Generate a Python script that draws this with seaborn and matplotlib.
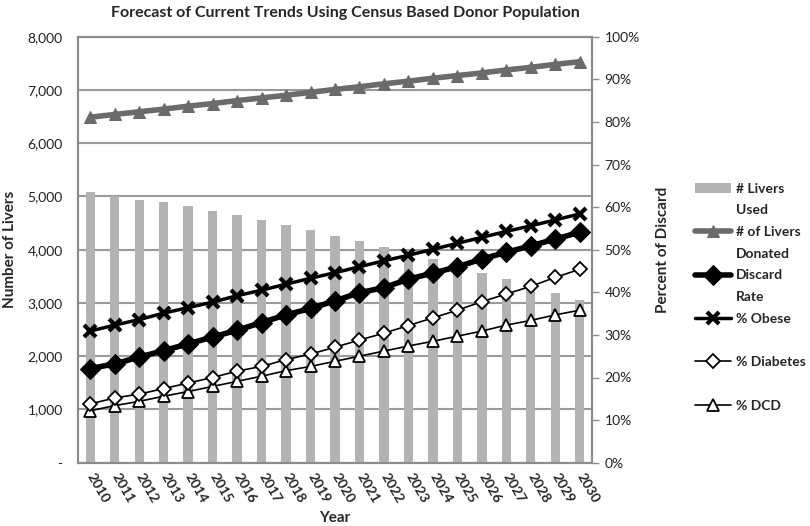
import numpy as np
import pandas as pd
import matplotlib
matplotlib.use("Agg")
import matplotlib.pyplot as plt
from matplotlib.lines import Line2D
from matplotlib.ticker import FuncFormatter
import seaborn as sns

### DATA ###
years = list(range(2010, 2031))
livers_used = [5075, 5013, 4938, 4888, 4812, 4731, 4650, 4549, 4462, 4368, 4255,
               4154, 4049, 3940, 3823, 3710, 3560, 3447, 3320, 3184, 3058]
livers_donated = [6488, 6540, 6590, 6640, 6695, 6745, 6800, 6850, 6900, 6955, 7010,
                  7060, 7115, 7165, 7220, 7270, 7320, 7375, 7425, 7480, 7531]
discard_rate = [22.1, 23.2, 24.8, 26.3, 27.9, 29.5, 31.1, 32.9, 34.7, 36.2, 38.0,
                39.9, 41.1, 43.1, 44.5, 46.0, 47.8, 49.4, 50.9, 52.5, 54.1]
pct_obese = [30.9, 32.3, 33.6, 35.1, 36.4, 37.7, 39.2, 40.5, 41.9, 43.3, 44.6,
             46.0, 47.4, 48.7, 50.1, 51.5, 52.9, 54.3, 55.6, 57.0, 58.4]
pct_diabetes = [13.8, 15.2, 16.1, 17.4, 18.7, 20.0, 21.5, 22.6, 24.2, 25.5, 27.1,
                28.8, 30.4, 32.2, 34.0, 35.8, 37.8, 39.6, 41.4, 43.5, 45.4]
pct_dcd = [12.2, 13.4, 14.4, 15.6, 16.7, 17.9, 19.1, 20.3, 21.6, 22.6, 23.8,
           25.0, 26.2, 27.4, 28.5, 29.7, 30.9, 32.3, 33.4, 34.7, 35.8]

df = pd.DataFrame({"year": [str(y) for y in years], "i": range(len(years)),
                   "used": livers_used, "donated": livers_donated,
                   "discard": discard_rate, "obese": pct_obese,
                   "diabetes": pct_diabetes, "dcd": pct_dcd})

sns.set_style("white")
plt.rcParams["font.family"] = ["Lato", "DejaVu Sans"]

fig = plt.figure(figsize=(8.1, 5.26), dpi=100)
ax = fig.add_axes([78/810, 1-462.7/526, (592-78)/810, (462.7-36.7)/526])

#! bars: livers used
sns.barplot(x="year", y="used", data=df, ax=ax, color="#b3b3b3",
            saturation=1, width=0.38, linewidth=0)
bar_h = ax.patches[0]

#! livers donated (left axis)
sns.lineplot(x="i", y="donated", data=df, ax=ax, color="#6b6b6b", linewidth=4,
             marker="^", markersize=9, markeredgecolor="#6b6b6b", zorder=4)
don_h = ax.lines[-1]

ax.set_ylim(0, 8000)
ax.set_xlim(-0.5, len(years) - 0.5)
ax.set_yticks(np.arange(0, 8001, 1000))
ax.yaxis.set_major_formatter(FuncFormatter(lambda v, p: "-" if v == 0 else f"{int(v):,}"))
ax.grid(axis="y", color="#9a9a9a", linewidth=1.5)
ax.set_axisbelow(True)
ax.tick_params(axis="y", length=0, labelsize=10, labelcolor="#222222", pad=11)
ax.set_xticks(range(len(years)))
ax.set_xticklabels(df["year"], rotation=-60, ha="left", va="center",
                   rotation_mode="anchor", fontweight="bold", fontsize=10)
ax.tick_params(axis="x", length=0, pad=8)
for s in ax.spines.values():
    s.set_color("#8c8c8c")
    s.set_linewidth(1.5)
ax.set_xlabel("Year", fontweight="bold", fontsize=11, labelpad=4)
ax.set_ylabel("Number of Livers", fontweight="bold", fontsize=11)
ax.yaxis.set_label_coords(-0.118, 0.5)

#! percent lines (right axis)
ax2 = ax.twinx()
sns.lineplot(x="i", y="dcd", data=df, ax=ax2, color="black", linewidth=1.2,
             marker="^", markersize=9, markerfacecolor="white",
             markeredgecolor="black", markeredgewidth=1.3)
dcd_h = ax2.lines[-1]
sns.lineplot(x="i", y="diabetes", data=df, ax=ax2, color="black", linewidth=1.2,
             marker="D", markersize=7, markerfacecolor="white",
             markeredgecolor="black", markeredgewidth=1.3)
dia_h = ax2.lines[-1]
sns.lineplot(x="i", y="obese", data=df, ax=ax2, color="black", linewidth=2.5,
             marker="x", markersize=9, markeredgewidth=3, markeredgecolor="black")
obe_h = ax2.lines[-1]
sns.lineplot(x="i", y="discard", data=df, ax=ax2, color="black", linewidth=4,
             marker="D", markersize=10, markeredgecolor="black")
dis_h = ax2.lines[-1]

ax2.set_ylim(0, 100)
ax2.set_yticks(np.arange(0, 101, 10))
ax2.yaxis.set_major_formatter(FuncFormatter(lambda v, p: f"{int(v)}%"))
ax2.tick_params(axis="y", direction="out", length=5, width=1, color="#8c8c8c",
                labelsize=10, labelcolor="#222222", pad=4)
for s in ax2.spines.values():
    s.set_color("#8c8c8c")
    s.set_linewidth(1.5)
ax2.set_xlabel("")
ax2.set_ylabel("Percent of Discard", fontweight="bold", fontsize=11, labelpad=12)
ax2.set_xlim(-0.5, len(years) - 0.5)

#! Title
fig.text(345/810, 1-13/526, "Forecast of Current Trends Using Census Based Donor Population",
         ha="center", va="center", fontsize=11.5, fontweight="bold")

#! Legend (wrapped labels like the original)
blank = lambda: Line2D([], [], color="none")
handles = [bar_h, blank(), don_h, blank(), dis_h, blank(), obe_h, blank(),
           dia_h, blank(), dcd_h]
labels = ["# Livers", "Used", "# of Livers", "Donated", "Discard", "Rate",
          "% Obese", " ", "% Diabetes", " ", "% DCD"]
fig.legend(handles, labels, loc="upper left", bbox_to_anchor=(689/810, 1-177/526),
           frameon=False, handlelength=2.6, handletextpad=0.35, labelspacing=0.7,
           borderaxespad=0, prop={"weight": "bold", "size": 10})

plt.savefig("out.png", dpi=100)
